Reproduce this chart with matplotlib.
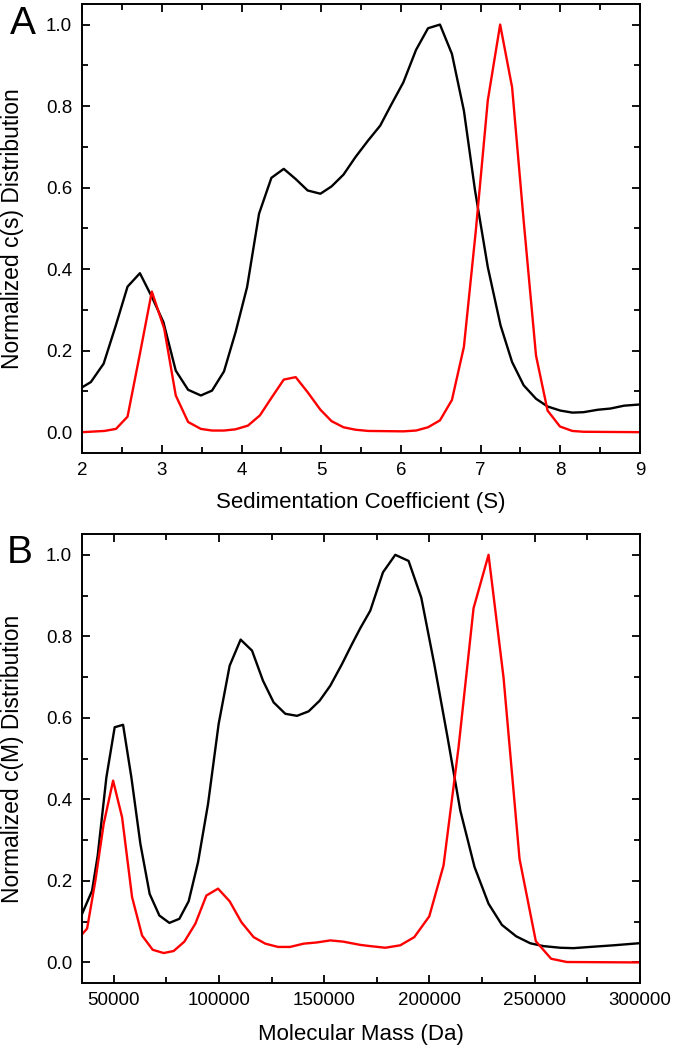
import matplotlib
matplotlib.use("Agg")
import matplotlib.pyplot as plt
from matplotlib.ticker import MultipleLocator

plt.rcParams['font.family'] = ['Liberation Sans', 'DejaVu Sans']

# Panel A: sedimentation coefficient distributions
s_black = [2.0, 2.11, 2.27, 2.42, 2.57, 2.725, 2.88, 3.02, 3.175, 3.33, 3.49, 3.63, 3.78, 3.925,
           4.07, 4.22, 4.375, 4.53, 4.68, 4.83, 4.99, 5.13, 5.28, 5.43, 5.59, 5.74, 5.88, 6.03,
           6.19, 6.34, 6.49, 6.64, 6.79, 6.93, 7.09, 7.25, 7.395, 7.54, 7.695, 7.84, 8.0, 8.15,
           8.29, 8.47, 8.63, 8.8, 9.0]
c_black = [0.110, 0.123, 0.168, 0.26, 0.357, 0.390, 0.33, 0.27, 0.151, 0.104, 0.090, 0.102, 0.149,
           0.245, 0.356, 0.536, 0.624, 0.646, 0.621, 0.593, 0.585, 0.603, 0.632, 0.675, 0.716,
           0.752, 0.804, 0.858, 0.938, 0.991, 1.0, 0.928, 0.789, 0.593, 0.405, 0.262, 0.172,
           0.115, 0.082, 0.063, 0.053, 0.048, 0.049, 0.055, 0.058, 0.065, 0.068]

s_red = [2.0, 2.28, 2.425, 2.57, 2.725, 2.875, 3.03, 3.175, 3.33, 3.49, 3.63, 3.78, 3.925, 4.08,
         4.23, 4.375, 4.53, 4.68, 4.83, 4.99, 5.13, 5.28, 5.43, 5.59, 6.03, 6.19, 6.34, 6.49,
         6.64, 6.79, 6.94, 7.09, 7.245, 7.395, 7.54, 7.695, 7.84, 7.995, 8.15, 8.29, 9.0]
c_red = [0.0, 0.003, 0.008, 0.038, 0.192, 0.345, 0.254, 0.090, 0.025, 0.008, 0.004, 0.004, 0.007,
         0.016, 0.041, 0.084, 0.129, 0.135, 0.098, 0.055, 0.027, 0.012, 0.006, 0.003, 0.002,
         0.004, 0.012, 0.029, 0.079, 0.209, 0.495, 0.814, 1.0, 0.846, 0.519, 0.188, 0.053,
         0.014, 0.003, 0.001, 0.0]

# Panel B: molecular mass distributions
m_black = [35140, 39740, 42400, 46530, 50470, 54460, 58400, 62680, 67090, 71700, 76450, 81190,
           85610, 90070, 94820, 99850, 105080, 110300, 115710, 120930, 125970, 131520, 137080,
           142590, 147810, 152890, 158440, 163190, 167130, 171880, 177900, 183750, 190070,
           196100, 202270, 208590, 214620, 221400, 228050, 234410, 241200, 247850, 254160,
           262100, 268400, 276300, 287400, 299400]
cm_black = [0.121, 0.176, 0.262, 0.454, 0.577, 0.583, 0.454, 0.291, 0.168, 0.115, 0.097, 0.107,
            0.150, 0.246, 0.389, 0.585, 0.728, 0.792, 0.765, 0.691, 0.638, 0.610, 0.605, 0.616,
            0.642, 0.679, 0.732, 0.781, 0.820, 0.863, 0.957, 1.0, 0.985, 0.895, 0.732, 0.552,
            0.373, 0.234, 0.144, 0.092, 0.064, 0.047, 0.040, 0.036, 0.035, 0.038, 0.042, 0.047]

m_red = [35140, 37370, 41310, 45250, 49720, 53990, 58740, 63480, 68520, 73740, 78490, 83570,
         88790, 94010, 99570, 105080, 110630, 116470, 122030, 128060, 133750, 140210, 146500,
         152890, 159000, 167130, 171880, 179000, 186120, 192770, 199890, 206680, 213810,
         220930, 228050, 235170, 242770, 250510, 257780, 265240, 299400]
cm_red = [0.070, 0.083, 0.201, 0.340, 0.446, 0.356, 0.160, 0.066, 0.031, 0.023, 0.028, 0.051,
          0.095, 0.164, 0.181, 0.150, 0.099, 0.062, 0.046, 0.038, 0.038, 0.046, 0.049, 0.054,
          0.051, 0.043, 0.040, 0.036, 0.042, 0.062, 0.113, 0.238, 0.528, 0.869, 1.0, 0.699,
          0.254, 0.052, 0.009, 0.001, 0.0]

fig = plt.figure(figsize=(6.73, 10.5), dpi=100)
axA = fig.add_axes([0.122, 0.569, 0.829, 0.427])
axB = fig.add_axes([0.122, 0.064, 0.829, 0.427])

BLACK = '#000000'
RED = '#ff0000'
lw = 1.7

axA.plot(s_black, c_black, color=BLACK, lw=lw)
axA.plot(s_red, c_red, color=RED, lw=lw)
axB.plot(m_black, cm_black, color=BLACK, lw=lw)
axB.plot(m_red, cm_red, color=RED, lw=lw)

axA.set_xlim(2, 9)
axA.xaxis.set_major_locator(MultipleLocator(1))
axA.xaxis.set_minor_locator(MultipleLocator(0.5))
axB.set_xlim(35000, 300000)
axB.xaxis.set_major_locator(MultipleLocator(50000))
axB.xaxis.set_minor_locator(MultipleLocator(25000))

for ax in (axA, axB):
    ax.set_ylim(-0.05, 1.05)
    ax.yaxis.set_major_locator(MultipleLocator(0.2))
    ax.yaxis.set_minor_locator(MultipleLocator(0.1))
    ax.yaxis.set_major_formatter(plt.FuncFormatter(lambda v, p: f"{v:.1f}"))
    ax.tick_params(which='both', direction='in', top=True, right=True, labelsize=13.5, width=1.3)
    ax.tick_params(which='major', length=6)
    ax.tick_params(which='minor', length=4)
    ax.tick_params(axis='x', which='major', pad=6.7)
    ax.tick_params(axis='y', which='major', pad=7.2)
    for sp in ax.spines.values():
        sp.set_linewidth(1.4)

axA.set_xlabel('Sedimentation Coefficient (S)', fontsize=16)
axA.set_ylabel('Normalized c(s) Distribution', fontsize=16.5)
axB.set_xlabel('Molecular Mass (Da)', fontsize=16)
axB.set_ylabel('Normalized c(M) Distribution', fontsize=16.5)
axA.xaxis.set_label_coords(0.5, -0.087)
axB.xaxis.set_label_coords(0.5, -0.093)
axA.yaxis.set_label_coords(-0.105, 0.5)
axB.yaxis.set_label_coords(-0.105, 0.5)

fig.text(0.0149, 0.9676, 'A', fontsize=28, ha='left', va='baseline')
fig.text(0.0104, 0.4641, 'B', fontsize=28, ha='left', va='baseline')

fig.savefig('out.png', dpi=100)
